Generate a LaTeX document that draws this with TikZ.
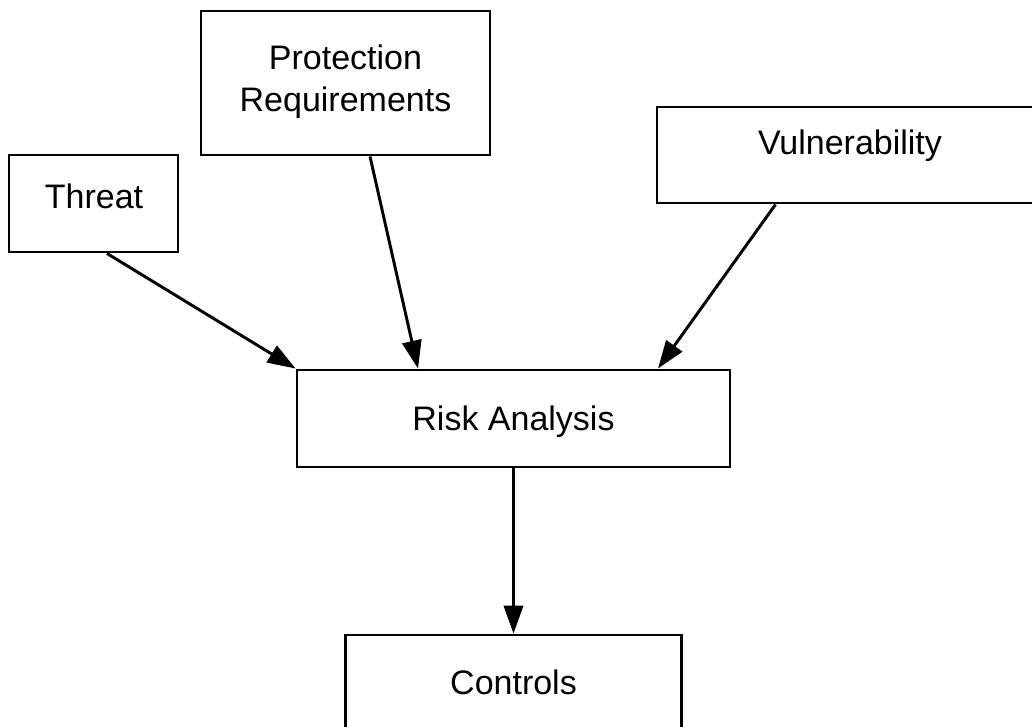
\documentclass[tikz,border=0pt]{standalone}
\usepackage{fontspec}
\setmainfont{Liberation Sans}
\usetikzlibrary{arrows.meta,calc}

\begin{document}
\begin{tikzpicture}[x=0.75pt,y=-0.75pt,
  box/.style 2 args={draw, line width=2.2pt, inner sep=0pt,
    minimum width=#1*0.75pt, minimum height=#2*0.75pt},
  lbl/.style={anchor=base, inner sep=0pt, font=\fontsize{25.5}{31.5}\selectfont},
  flow/.style={line width=2.2pt, -{Triangle[length=21pt,width=14.5pt]}}]
  \useasboundingbox (0,0) rectangle (1032,727);
  \clip (0,0) rectangle (1032,727);

  % boxes (centre, width, height in pixels)
  \node[box={169}{97}]  (threat) at (93.5,203.5) {};
  \node[box={289}{144}] (prot)   at (345.5,83)   {};
  \node[box={386}{96}]  (vuln)   at (850,155)    {};
  \node[box={433}{97}]  (risk)   at (513.5,418.5) {};
  \node[box={336}{97}]  (ctrl)   at (513.5,683.5) {};

  % labels
  \node[lbl] (threat-t) at (94,209)    {Threat};
  \node[lbl] (prot-t1)  at (345.5,70)  {Protection};
  \node[lbl] (prot-t2)  at (345.5,112) {Requirements};
  \node[lbl] (vuln-t)   at (850,155)   {Vulnerability};
  \node[lbl] (risk-t)   at (513.5,431) {Risk Analysis};
  \node[lbl] (ctrl-t)   at (513.5,694) {Controls};

  % connectors
  \draw[flow] ($(threat.south)+(13.5,0)$) -- (risk.north west);
  \draw[flow] ($(prot.south)+(24.5,0)$)   -- ($(risk.north)+(-95.5,0)$);
  \draw[flow] ($(vuln.south west)+(120,0)$) -- ($(risk.north)+(144.5,0)$);
  \draw[flow] (risk.south) -- (ctrl.north);
\end{tikzpicture}
\end{document}
